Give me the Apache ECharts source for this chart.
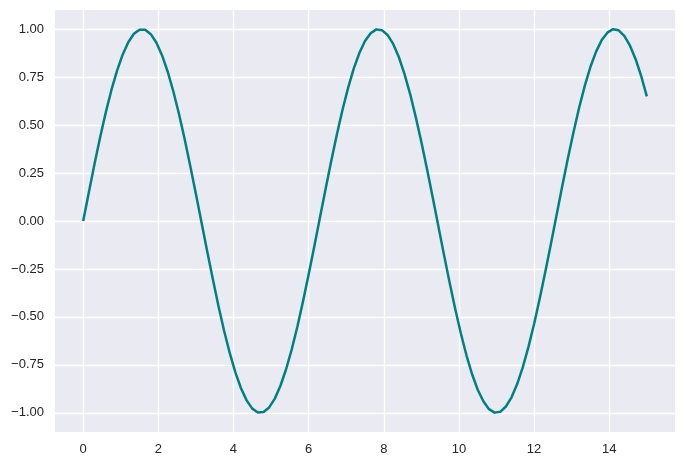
<!DOCTYPE html>
<html><head><meta charset="utf-8">
<script src="https://cdn.jsdelivr.net/npm/echarts@6/dist/echarts.min.js"></script>
<style>html,body{margin:0;padding:0;background:#fff}#c{width:684px;height:467px}</style>
</head><body><div id="c"></div>
<script>
const xValues = [0,0.15,0.3,0.45,0.6,0.75,0.9,1.05,1.2,1.35,1.5,1.65,1.8,1.95,2.1,2.25,2.4,2.55,2.7,2.85,3,3.15,3.3,3.45,3.6,3.75,3.9,4.05,4.2,4.35,4.5,4.65,4.8,4.95,5.1,5.25,5.4,5.55,5.7,5.85,6,6.15,6.3,6.45,6.6,6.75,6.9,7.05,7.2,7.35,7.5,7.65,7.8,7.95,8.1,8.25,8.4,8.55,8.7,8.85,9,9.15,9.3,9.45,9.6,9.75,9.9,10.05,10.2,10.35,10.5,10.65,10.8,10.95,11.1,11.25,11.4,11.55,11.7,11.85,12,12.15,12.3,12.45,12.6,12.75,12.9,13.05,13.2,13.35,13.5,13.65,13.8,13.95,14.1,14.25,14.4,14.55,14.7,14.85,15];
const yValues = [0.000,0.149,0.296,0.435,0.565,0.682,0.783,0.867,0.932,0.976,0.997,0.997,0.974,0.929,0.863,0.778,0.675,0.558,0.427,0.287,0.141,-0.008,-0.158,-0.303,-0.443,-0.572,-0.688,-0.789,-0.872,-0.935,-0.978,-0.998,-0.996,-0.972,-0.926,-0.859,-0.773,-0.669,-0.551,-0.419,-0.279,-0.133,0.017,0.166,0.312,0.450,0.579,0.694,0.794,0.876,0.938,0.979,0.999,0.995,0.970,0.923,0.855,0.767,0.663,0.543,0.412,0.271,0.125,-0.025,-0.174,-0.319,-0.457,-0.585,-0.700,-0.799,-0.880,-0.940,-0.981,-0.999,-0.995,-0.967,-0.919,-0.850,-0.762,-0.656,-0.537,-0.404,-0.263,-0.117,0.033,0.182,0.327,0.464,0.592,0.706,0.804,0.883,0.943,0.982,1.000,0.994,0.965,0.915,0.845,0.756,0.650];
const xTicks = [0,2,4,6,8,10,12,14];
const yTicks = [-1,-0.75,-0.5,-0.25,0,0.25,0.5,0.75,1];

const chart = echarts.init(document.getElementById('c'), null, {renderer:'canvas'});
const labelStyle = {color:'#262626', fontSize:13, fontFamily:'Liberation Sans, Arial, sans-serif'};
chart.setOption({
  animation:false,
  backgroundColor:'#ffffff',
  grid:{left:55, top:10, right:9, bottom:35, show:true, backgroundColor:'#EAEAF2', borderWidth:0},
  xAxis:{type:'value', min:-0.75, max:15.75,
    axisLine:{show:false},
    axisTick:{show:false, customValues:xTicks},
    axisLabel:Object.assign({customValues:xTicks, margin:11}, labelStyle),
    splitLine:{show:true, lineStyle:{color:'#ffffff', width:1.3}}},
  yAxis:{type:'value', min:-1.1, max:1.1,
    axisLine:{show:false},
    axisTick:{show:false, customValues:yTicks},
    axisLabel:Object.assign({customValues:yTicks, margin:11,
      formatter:v=>{const s=Math.abs(v).toFixed(2);return v<0?'\u2212'+s:s;}}, labelStyle),
    splitLine:{show:true, lineStyle:{color:'#ffffff', width:1.3}}},
  series:[{type:'line', data:xValues.map((x,i)=>[x,yValues[i]]), smooth:false, symbol:'none',
    lineStyle:{color:'#008080', width:2.5, join:'round'}}]
});
</script></body></html>
